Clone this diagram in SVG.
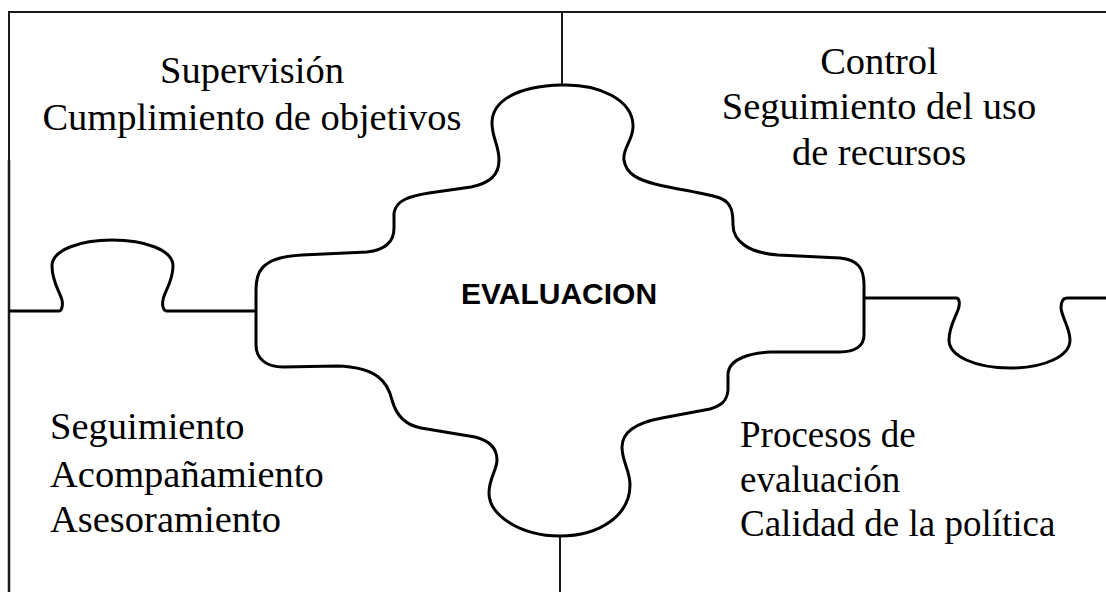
<svg xmlns="http://www.w3.org/2000/svg" width="1106" height="592" viewBox="0 0 1106 592">
<style>
.frame{fill:none;stroke:#1a1a1a;stroke-width:2}
.piece{fill:none;stroke:#000;stroke-width:3;stroke-linejoin:round;stroke-linecap:round}
.tab{fill:none;stroke:#000;stroke-width:3;stroke-linejoin:round}
.lbl{font-family:"Liberation Serif","Times New Roman",serif;font-size:38.5px;fill:#000}
.lbl2{font-family:"Liberation Serif","Times New Roman",serif;font-size:37px;fill:#000}
.center{font-family:"Liberation Sans",Arial,sans-serif;font-size:30px;font-weight:bold;fill:#000}
</style>
<rect width="1106" height="592" fill="#fff"/>
<g id="connectors">
<path class="frame" d="M9 592 L9 12 L1106 12"/>
<path class="frame" d="M9 160 L9 592" style="stroke-width:2.5"/>
<path class="frame" d="M562 12 L562 85"/>
<path class="frame" d="M560 536 L560 592"/>
<path class="tab" d="M9 311 L59 311 C62 311 63 305 62 300 C60 292 52 282 52 266 C52 250 80 240 112 240 C145 240 173 250 173 266 C173 282 164 292 163 300 C162 305 163 311 167 311 L256 311"/>
<path class="tab" d="M864 298 L956 298 C960 298 960 305 958 310 C954 320 949 328 949 340 C949 356 975 368 1010 368 C1045 368 1070 356 1070 340 C1070 328 1062 318 1061 308 C1061 302 1063 298 1067 298 L1106 298"/>
</g>
<g id="evaluacion">
<path class="piece" d="M562 85 C600 84 632 100 633 125 C634 140 622 148 624 160 C626 175 640 180 655 184 C680 190 705 193 720 198 C732 203 733 212 733 225 C733 242 750 253 778 255 L840 258 C858 260 864 268 864 285 L864 335 C864 346 855 352 840 352 L771 352 C752 353 728 358 728 375 L728 390 C727 402 720 406 710 409 L662 418 C640 422 622 430 622 447 C622 462 630 470 630 485 C630 515 600 536 560 536 C520 536 489 515 489 493 C489 478 497 470 497 460 C497 446 487 440 475 437 L421 428 C405 425 396 415 392 400 C388 383 378 367 337 366 L283 367 C268 367 256 360 256 345 L256 290 C256 275 258 257 302 255 L367 252 C385 250 394 242 394 228 L394 213 C396 200 410 196 429 193 L471 187 C490 183 499 175 499 160 C499 145 492 138 492 123 C492 102 515 86 562 85 Z"/>
<text class="center" x="559" y="304" text-anchor="middle">EVALUACION</text>
</g>
<g id="supervision">
<text class="lbl" x="252" y="83" text-anchor="middle">Supervisión</text>
<text class="lbl" x="252" y="130" text-anchor="middle">Cumplimiento de objetivos</text>
</g>
<g id="control">
<text class="lbl" x="879" y="74" text-anchor="middle">Control</text>
<text class="lbl" x="879" y="119" text-anchor="middle">Seguimiento del uso</text>
<text class="lbl" x="879" y="165" text-anchor="middle">de recursos</text>
</g>
<g id="seguimiento">
<text class="lbl" x="50" y="439">Seguimiento</text>
<text class="lbl" x="50" y="487">Acompañamiento</text>
<text class="lbl" x="50" y="532">Asesoramiento</text>
</g>
<g id="procesos">
<text class="lbl2" x="740" y="447">Procesos de</text>
<text class="lbl2" x="740" y="492">evaluación</text>
<text class="lbl2" x="740" y="536">Calidad de la política</text>
</g>
</svg>
